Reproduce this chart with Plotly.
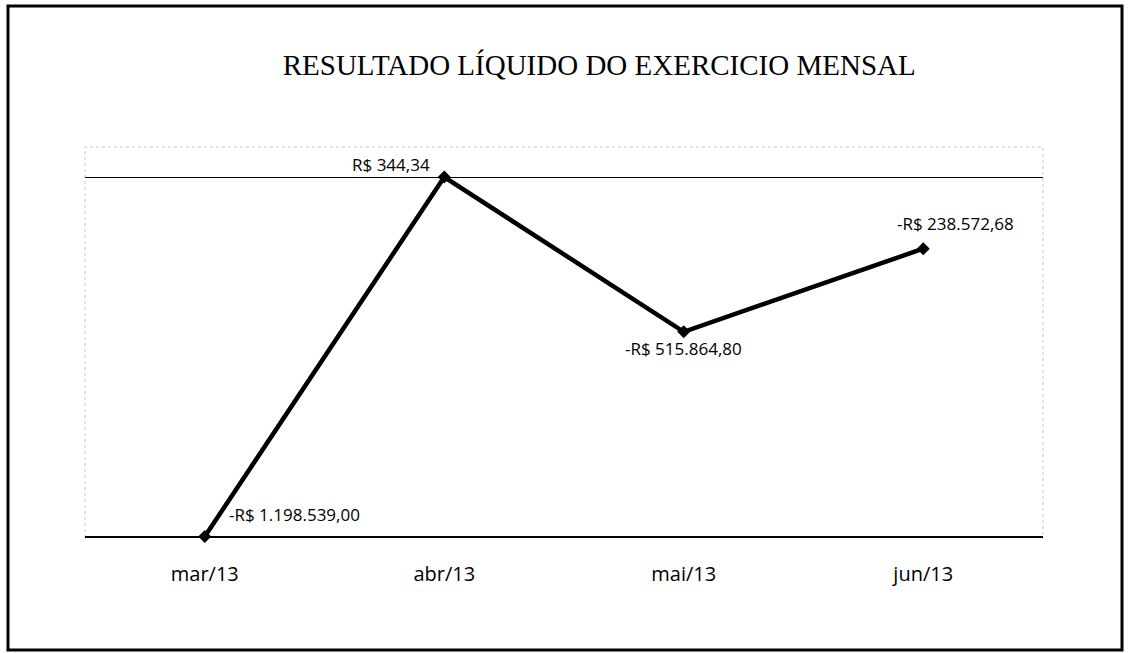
import plotly.graph_objects as go

# Monthly net result (R$)
months = ["mar/13", "abr/13", "mai/13", "jun/13"]
results = [-1198539.00, 344.34, -515864.80, -238572.68]
labels = ["-R$ 1.198.539,00", "R$ 344,34", "-R$ 515.864,80", "-R$ 238.572,68"]

# y scale: bottom rule at -1.2M, top rule at zero
y_min, y_max = -1200000, 400

# plot-area geometry in pixels
W, H = 1130, 653
L, R, T, B = 85, 1043, 177, 537

def px(x):
    return (x - L) / (R - L)

def py(y):
    return (B - y) / (B - T)

fig = go.Figure()
fig.add_trace(go.Scatter(
    x=months, y=results, mode="lines+markers",
    line=dict(color="black", width=4.5),
    marker=dict(symbol="diamond", size=10, color="black"),
    cliponaxis=False,
    hoverinfo="skip", showlegend=False,
))

# data labels placed around each point: (xshift, yshift, xanchor, yanchor)
offsets = [(22, 22, "left", "middle"), (-12, 13, "right", "middle"),
           (0, -17, "center", "middle"), (-28, 25, "left", "middle")]
for m, v, t, (dx, dy, xa, ya) in zip(months, results, labels, offsets):
    fig.add_annotation(x=m, y=v, text=t, showarrow=False,
                       xshift=dx, yshift=dy, xanchor=xa, yanchor=ya,
                       font=dict(family="Open Sans", size=17, color="black"))

shapes = [
    # outer frame
    dict(type="rect", xref="paper", yref="paper",
         x0=px(8), x1=px(1122), y0=py(650), y1=py(6),
         line=dict(color="black", width=3)),
    # faint plot-area border
    dict(type="rect", xref="paper", yref="paper",
         x0=0, x1=1, y0=0, y1=py(147),
         line=dict(color="#c8c8c8", width=1, dash="dot")),
    # top rule at zero and bottom rule
    dict(type="line", xref="paper", yref="y", x0=0, x1=1, y0=0, y1=0,
         line=dict(color="black", width=2)),
    dict(type="line", xref="paper", yref="paper", x0=0, x1=1, y0=0, y1=0,
         line=dict(color="black", width=2)),
]

fig.update_layout(
    width=W, height=H,
    margin=dict(l=L, r=W - R, t=T, b=H - B),
    paper_bgcolor="white", plot_bgcolor="white",
    title=dict(text="RESULTADO LÍQUIDO DO EXERCICIO MENSAL",
               x=px(593), xanchor="center", y=1 - 65 / H, yanchor="middle",
               font=dict(family="Liberation Serif", size=29, color="black")),
    xaxis=dict(type="category", range=[-0.5, 3.5], showgrid=False,
               showline=False, zeroline=False,
               ticks="outside", ticklen=19, tickcolor="rgba(0,0,0,0)",
               tickfont=dict(family="Open Sans", size=20, color="black"),
               fixedrange=True),
    yaxis=dict(range=[y_min, y_max], showgrid=False, zeroline=False,
               showticklabels=False, showline=False, fixedrange=True),
    shapes=shapes,
)

fig.write_html("out.html")
